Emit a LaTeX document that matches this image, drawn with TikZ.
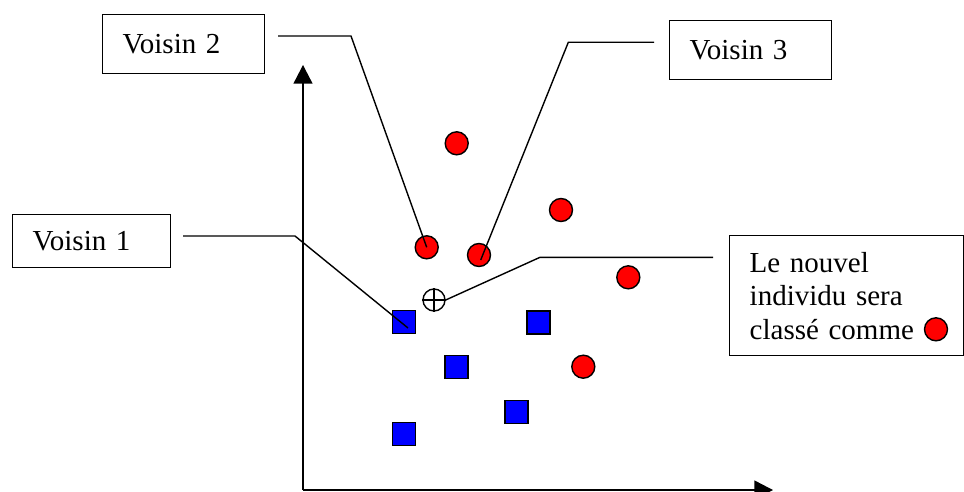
\documentclass[tikz,border=0pt]{standalone}
\usepackage{fontspec}
\setmainfont{Liberation Serif}
\usetikzlibrary{arrows.meta}
\begin{document}
\begin{tikzpicture}[x=1pt,y=-1pt,
  line width=1.4pt,
  lbl/.style={draw, rectangle, anchor=north west, inner xsep=20pt, inner ysep=0pt,
    align=left, font=\fontsize{29}{33.5}\selectfont, minimum height=#1},
  redpt/.style={circle, draw, fill=red, minimum size=23pt, inner sep=0pt},
  bluept/.style={rectangle, draw, fill=blue, minimum size=23pt, inner sep=0pt},
  axisline/.style={-{Triangle[length=18.7pt,width=19pt]}}]
\useasboundingbox (0,0) rectangle (964,492);

% axes
\coordinate (o) at (303,490);
\coordinate (ytip) at (303,65);
\coordinate (xtip) at (773,490);
\draw[axisline] (o) -- (ytip);
\draw[axisline] (o) -- (xtip);

% labels
\node[lbl=59pt, text width=122pt] (v2) at (102,14) {Voisin 2};
\node[lbl=59pt, text width=122pt] (v3) at (669,20) {Voisin 3};
\node[lbl=53pt, text width=118pt] (v1) at (12,214) {Voisin 1};
\node[lbl=120pt, text width=194pt] (res) at (729,235) {Le nouvel\\individu sera\\classé comme};
\node[redpt] (r7) at (936,329.3) {};

% red points
\node[redpt] (r1) at (456.7,143.3) {};
\node[redpt] (r2) at (561,210) {};
\node[redpt] (r3) at (426.7,247.3) {};
\node[redpt] (r4) at (479,255) {};
\node[redpt] (r5) at (628.3,277.3) {};
\node[redpt] (r6) at (583.3,366.7) {};

% blue points
\node[bluept] (b1) at (404,322) {};
\node[bluept] (b2) at (538.3,322.3) {};
\node[bluept] (b3) at (456.5,367) {};
\node[bluept] (b4) at (516.5,412) {};
\node[bluept] (b5) at (404,434) {};

% new individual
\node[circle, draw, minimum size=22pt, inner sep=0pt] (new) at (434,300) {};
\draw (new.north) -- (new.south) (new.west) -- (new.east);

% connectors
\coordinate (v1a) at (183,236);
\coordinate (v1b) at (295,236);
\coordinate (v1c) at (408,328);
\draw (v1a) -- (v1b) -- (v1c);

\coordinate (v2a) at (278,36);
\coordinate (v2b) at (351,36);
\draw (v2a) -- (v2b) -- (r3.center);

\coordinate (v3a) at (654,42.3);
\coordinate (v3b) at (568.3,42.3);
\coordinate (v3c) at (480.7,260);
\draw (v3a) -- (v3b) -- (v3c);

\coordinate (na) at (540,257.3);
\coordinate (nb) at (713,257.3);
\draw (new.east) -- (na) -- (nb);
\end{tikzpicture}
\end{document}
